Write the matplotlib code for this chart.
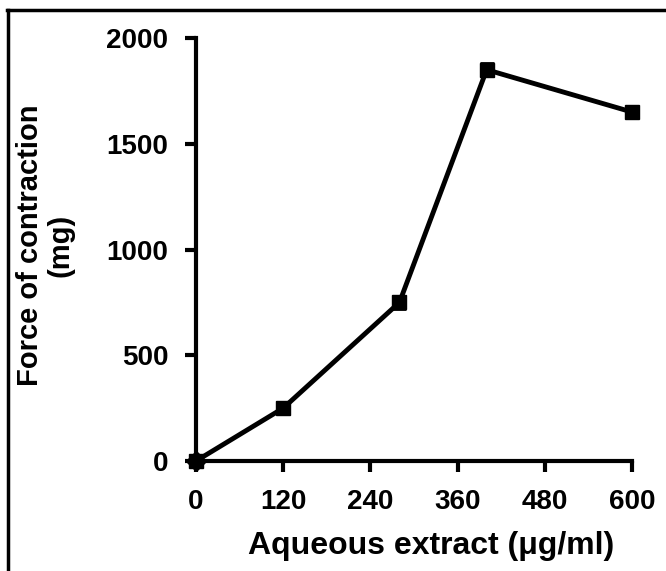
#!/usr/bin/env python3
"""
Force of contraction vs aqueous extract concentration
"""

import matplotlib
matplotlib.use('Agg')
import matplotlib.pyplot as plt
from matplotlib.lines import Line2D

# data
concentration = [0, 120, 280, 400, 600]          # ug/ml
force = [0, 250, 750, 1850, 1650]                # mg
force_err = [25, 30, 30, 30, 25]

x_ticks = [0, 120, 240, 360, 480, 600]
y_ticks = [0, 500, 1000, 1500, 2000]

plt.rcParams['font.family'] = ['Liberation Sans', 'DejaVu Sans']
plt.rcParams['font.weight'] = 'bold'

fig = plt.figure(figsize=(6.66, 5.71), dpi=100)
ax = fig.add_axes([196 / 666, 1 - 461 / 571, (632 - 196) / 666, (461 - 38) / 571])

# line + error bars
ax.errorbar(concentration, force, yerr=force_err, color='black', linewidth=3.5,
            elinewidth=2, capsize=5, capthick=2, marker='s', markersize=10,
            clip_on=False, zorder=3)
# origin point shows as a diamond in the original
ax.plot(concentration[0], force[0], marker='D', color='black', markersize=10,
        clip_on=False, zorder=4)

ax.set_xlim(0, 600)
ax.set_ylim(0, 2000)
ax.set_xticks(x_ticks)
ax.set_yticks(y_ticks)

for side in ['top', 'right']:
    ax.spines[side].set_visible(False)
for side in ['left', 'bottom']:
    ax.spines[side].set_linewidth(3)

ax.tick_params(axis='both', direction='out', length=8, width=3,
               labelsize=20, pad=12)
for lbl in ax.get_xticklabels() + ax.get_yticklabels():
    lbl.set_fontweight('bold')

ax.set_xlabel('Aqueous extract (\u03bcg/ml)', fontsize=23, fontweight='bold')
ax.xaxis.set_label_coords(0.54, -0.165)
ax.set_ylabel('Force of contraction\n(mg)', fontsize=21, fontweight='bold',
              linespacing=1.1, va='center')
ax.yaxis.set_label_coords(-0.345, 0.51)

# frame lines around the picture (top and left only)
fig.add_artist(Line2D([7 / 666, 1], [1 - 10 / 571, 1 - 10 / 571],
                      transform=fig.transFigure, color='black', linewidth=2.5))
fig.add_artist(Line2D([8 / 666, 8 / 666], [0, 1 - 10 / 571],
                      transform=fig.transFigure, color='black', linewidth=2.5))

plt.savefig('out.png', dpi=100)
plt.close()
